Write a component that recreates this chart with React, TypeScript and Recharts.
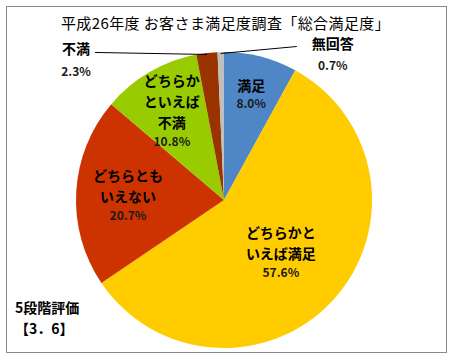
import { PieChart, Pie, Cell } from 'recharts';

const categories = ['満足', 'どちらかといえば満足', 'どちらともいえない', 'どちらかといえば不満', '不満', '無回答'];
const values = [8.0, 57.6, 20.7, 10.8, 2.3, 0.7];
const colors = ['#4F86C6', '#FFCC00', '#CC3300', '#99CC00', '#993300', '#BFBFBF'];

// label text split into lines, as drawn in the original chart
const labelLines = [
  ['満足'],
  ['どちらかと', 'いえば満足'],
  ['どちらとも', 'いえない'],
  ['どちらか', 'といえば', '不満'],
  ['不満'],
  ['無回答'],
];

const chartData = categories.map((name, i) => ({ name, value: values[i] }));

const RAD = Math.PI / 180;
const JP_FONT = '"Noto Sans CJK JP", "Noto Sans", sans-serif';

// inside labels: radius ratio along the slice's middle angle
const insideRatio = [0.74, 0.52, 0.65, 0.7];

const renderLabel = (props: any) => {
  const { cx, cy, midAngle, outerRadius, index } = props;
  const lines = labelLines[index];
  const pct = values[index].toFixed(1) + '%';
  if (index < 4) {
    const r = outerRadius * insideRatio[index];
    const x = cx + r * Math.cos(-midAngle * RAD);
    const y = cy + r * Math.sin(-midAngle * RAD);
    const lh = index === 0 ? 20 : 21;
    const total = lines.length * lh + 18;
    const top = y - total / 2 + 10;
    return (
      <g key={index}>
        {lines.map((t, k) => (
          <text key={k} x={x} y={top + k * lh} textAnchor="middle" dominantBaseline="central"
            fontFamily={JP_FONT} fontWeight="bold" fontSize={14} fill="#000">{t}</text>
        ))}
        <text x={x} y={top + lines.length * lh - 2} textAnchor="middle" dominantBaseline="central"
          fontFamily={JP_FONT} fontWeight="bold" fontSize={12} fill="#1a1a1a">{pct}</text>
      </g>
    );
  }
  // outside labels with long leader lines
  const ex = cx + outerRadius * 0.99 * Math.cos(-midAngle * RAD);
  const ey = cy + outerRadius * 0.99 * Math.sin(-midAngle * RAD);
  const left = index === 4;
  const lx = left ? ex - 112 : ex + 76;
  const ly = left ? ey - 2 : ey - 7;
  const tx = left ? lx - 19 : lx + 36;
  return (
    <g key={index}>
      <line x1={ex} y1={ey} x2={lx} y2={ly} stroke="#000" strokeWidth={1} />
      <text x={tx} y={ly - 4} textAnchor="middle" dominantBaseline="central"
        fontFamily={JP_FONT} fontWeight="bold" fontSize={14} fill="#000">{lines[0]}</text>
      <text x={tx} y={ly + 18} textAnchor="middle" dominantBaseline="central"
        fontFamily={JP_FONT} fontWeight="bold" fontSize={12} fill="#1a1a1a">{pct}</text>
    </g>
  );
};

const App = () => {
  return (
    <div style={{ position: 'absolute', left: 0, top: 0, width: 451, height: 357, background: '#fff' }}>
      <div style={{ position: 'absolute', left: 6, top: 6, width: 441, height: 347, border: '1px solid #8a8a8a', boxSizing: 'border-box' }} />
      <div style={{ position: 'absolute', left: 0, top: 12, width: 451, textAlign: 'center', fontFamily: JP_FONT, fontSize: 15, letterSpacing: 0.4, color: '#000' }}>
        平成26年度 お客さま満足度調査「総合満足度」
      </div>
      <PieChart width={451} height={357} style={{ position: 'absolute', left: 0, top: 0 }}>
        <Pie
          data={chartData}
          dataKey="value"
          nameKey="name"
          cx={219}
          cy={195}
          outerRadius={148}
          startAngle={90}
          endAngle={-270}
          stroke="none"
          label={renderLabel}
          labelLine={false}
          isAnimationActive={false}
        >
          {chartData.map((d, i) => (
            <Cell key={d.name} fill={colors[i]} />
          ))}
        </Pie>
      </PieChart>
      <div style={{ position: 'absolute', left: 15, top: 297, fontFamily: JP_FONT, fontSize: 14, fontWeight: 'bold', color: '#000', lineHeight: '21px' }}>
        5段階評価<br />【3．6】
      </div>
    </div>
  );
};

export default App;
